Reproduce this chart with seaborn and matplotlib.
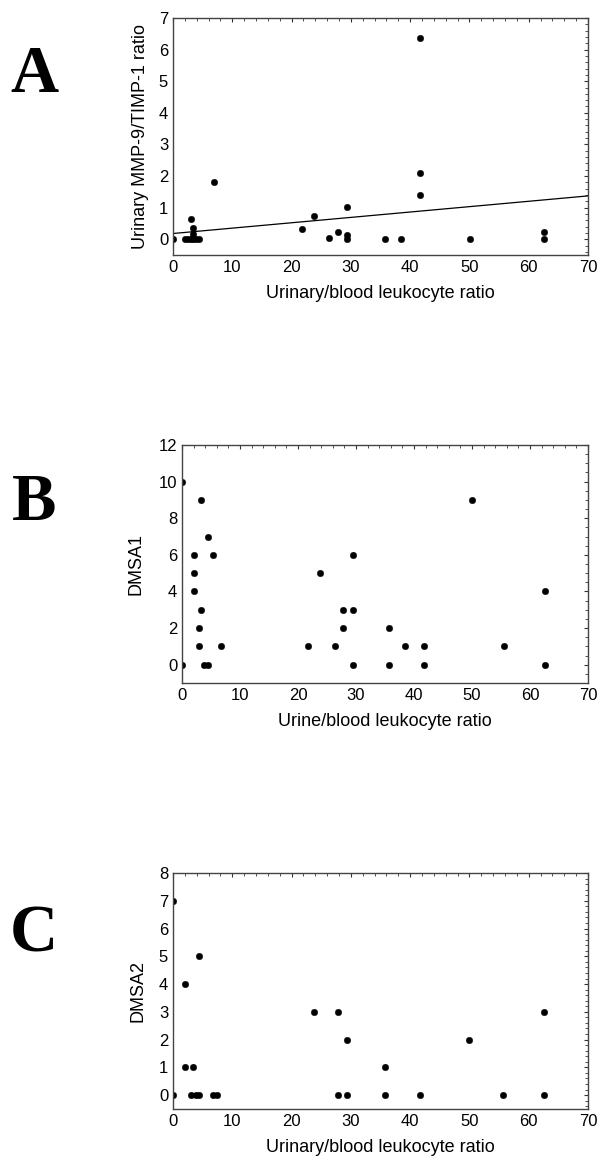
#Leukocyte ratio vs urinary markers / DMSA scores

#Import packages
import seaborn as sns
import matplotlib.pyplot as plt
from matplotlib.ticker import MultipleLocator

#Panel A data: urinary MMP-9/TIMP-1 ratio
a_x = [0, 2.1, 2.6, 3.0, 3.3, 3.8, 4.4, 3.1, 3.3, 3.3, 6.85, 21.7, 23.8, 26.3, 27.9,
       29.4, 29.4, 29.4, 35.8, 38.4, 41.7, 41.7, 41.7, 50.1, 62.6, 62.6]
a_y = [0, 0, 0, 0, 0, 0, 0, 0.63, 0.36, 0.18, 1.82, 0.31, 0.74, 0.03, 0.24,
       1.03, 0.13, 0, 0, 0, 6.37, 2.1, 1.4, 0, 0.24, 0]
#fitted line
fit_x = [0, 70]
fit_y = [0.18, 1.37]

#Panel B data: DMSA1
b_x = [0, 0, 3.3, 4.4, 2.1, 5.35, 2.1, 2.1, 3.2, 2.9, 2.9, 6.8, 3.8, 4.4,
       21.7, 23.8, 26.3, 27.8, 27.8, 29.4, 29.4, 29.4, 35.7, 35.7, 38.4,
       41.7, 41.7, 50.0, 55.5, 62.6, 62.6]
b_y = [10, 0, 9, 7, 6, 6, 5, 4, 3, 2, 1, 1, 0, 0,
       1, 5, 1, 3, 2, 6, 3, 0, 2, 0, 1,
       1, 0, 9, 1, 4, 0]

#Panel C data: DMSA2
c_x = [0, 0, 2.1, 4.4, 2.1, 3.3, 3.0, 3.8, 4.4, 6.7, 7.5, 23.8, 27.9, 29.4,
       27.9, 29.4, 35.8, 35.8, 41.7, 50.0, 55.6, 62.6, 62.6]
c_y = [7, 0, 4, 5, 1, 1, 0, 0, 0, 0, 0, 3, 3, 2,
       0, 0, 1, 0, 0, 2, 0, 3, 0]

sns.set_style('white')
plt.rcParams['font.family'] = ['Liberation Sans', 'DejaVu Sans']
plt.rcParams['text.color'] = 'black'
plt.rcParams['axes.labelcolor'] = 'black'
plt.rcParams['xtick.color'] = 'black'
plt.rcParams['ytick.color'] = 'black'

W, H = 600, 1161
fig = plt.figure(figsize=(W / 100, H / 100), dpi=100)

def px_axes(left, top, right, bottom):
    return fig.add_axes([left / W, 1 - bottom / H, (right - left) / W, (bottom - top) / H])

axA = px_axes(173, 18, 588, 255)
axB = px_axes(182, 445, 588, 683)
axC = px_axes(173, 873, 588, 1109)

# ax, x, y, letter, letter centre y (px), ylabel, xlabel, ylim, major, minor, ylabel right edge (px)
panels = [
    (axA, a_x, a_y, 'A', 76, 'Urinary MMP-9/TIMP-1 ratio', 'Urinary/blood leukocyte ratio', (-0.5, 7), 1, 0.2, 149),
    (axB, b_x, b_y, 'B', 504, 'DMSA1', 'Urine/blood leukocyte ratio', (-1, 12), 2, 0.5, 144),
    (axC, c_x, c_y, 'C', 935, 'DMSA2', 'Urinary/blood leukocyte ratio', (-0.5, 8), 1, 0.2, 147),
]

for ax, x, y, letter, ly, ylab, xlab, ylim, ymaj, ymin, yl_x in panels:
    sns.scatterplot(x=x, y=y, ax=ax, color='black', s=22, edgecolor='black', linewidth=0.3)
    ax.set_xlim(0, 70)
    ax.set_ylim(*ylim)
    ax.xaxis.set_major_locator(MultipleLocator(10))
    ax.xaxis.set_minor_locator(MultipleLocator(2))
    ax.yaxis.set_major_locator(MultipleLocator(ymaj))
    ax.yaxis.set_minor_locator(MultipleLocator(ymin))
    ax.tick_params(which='both', direction='in', top=True, right=True, color='#333333')
    ax.tick_params(which='major', length=3, labelsize=12, pad=3.5, labelcolor='black')
    ax.tick_params(which='minor', length=2)
    for s in ax.spines.values():
        s.set_color('#444444')
        s.set_linewidth(1.0)
    ax.set_xlabel(xlab, fontsize=13, color='black')
    ax.set_ylabel(ylab, fontsize=13, color='black')
    bb = ax.get_position()
    ax.xaxis.set_label_coords(0.5 * (bb.x0 + bb.x1), bb.y0 - 30 / H, transform=fig.transFigure)
    ax.yaxis.set_label_coords(yl_x / W, 0.5 * (bb.y0 + bb.y1), transform=fig.transFigure)
    fig.text(34 / W, 1 - ly / H, letter, fontsize=48, fontweight='bold', color='black',
             family='Liberation Serif', ha='center', va='center')

#Regression line in panel A
sns.lineplot(x=fit_x, y=fit_y, ax=axA, color='black', linewidth=0.9)

fig.savefig('out.png', dpi=100)
